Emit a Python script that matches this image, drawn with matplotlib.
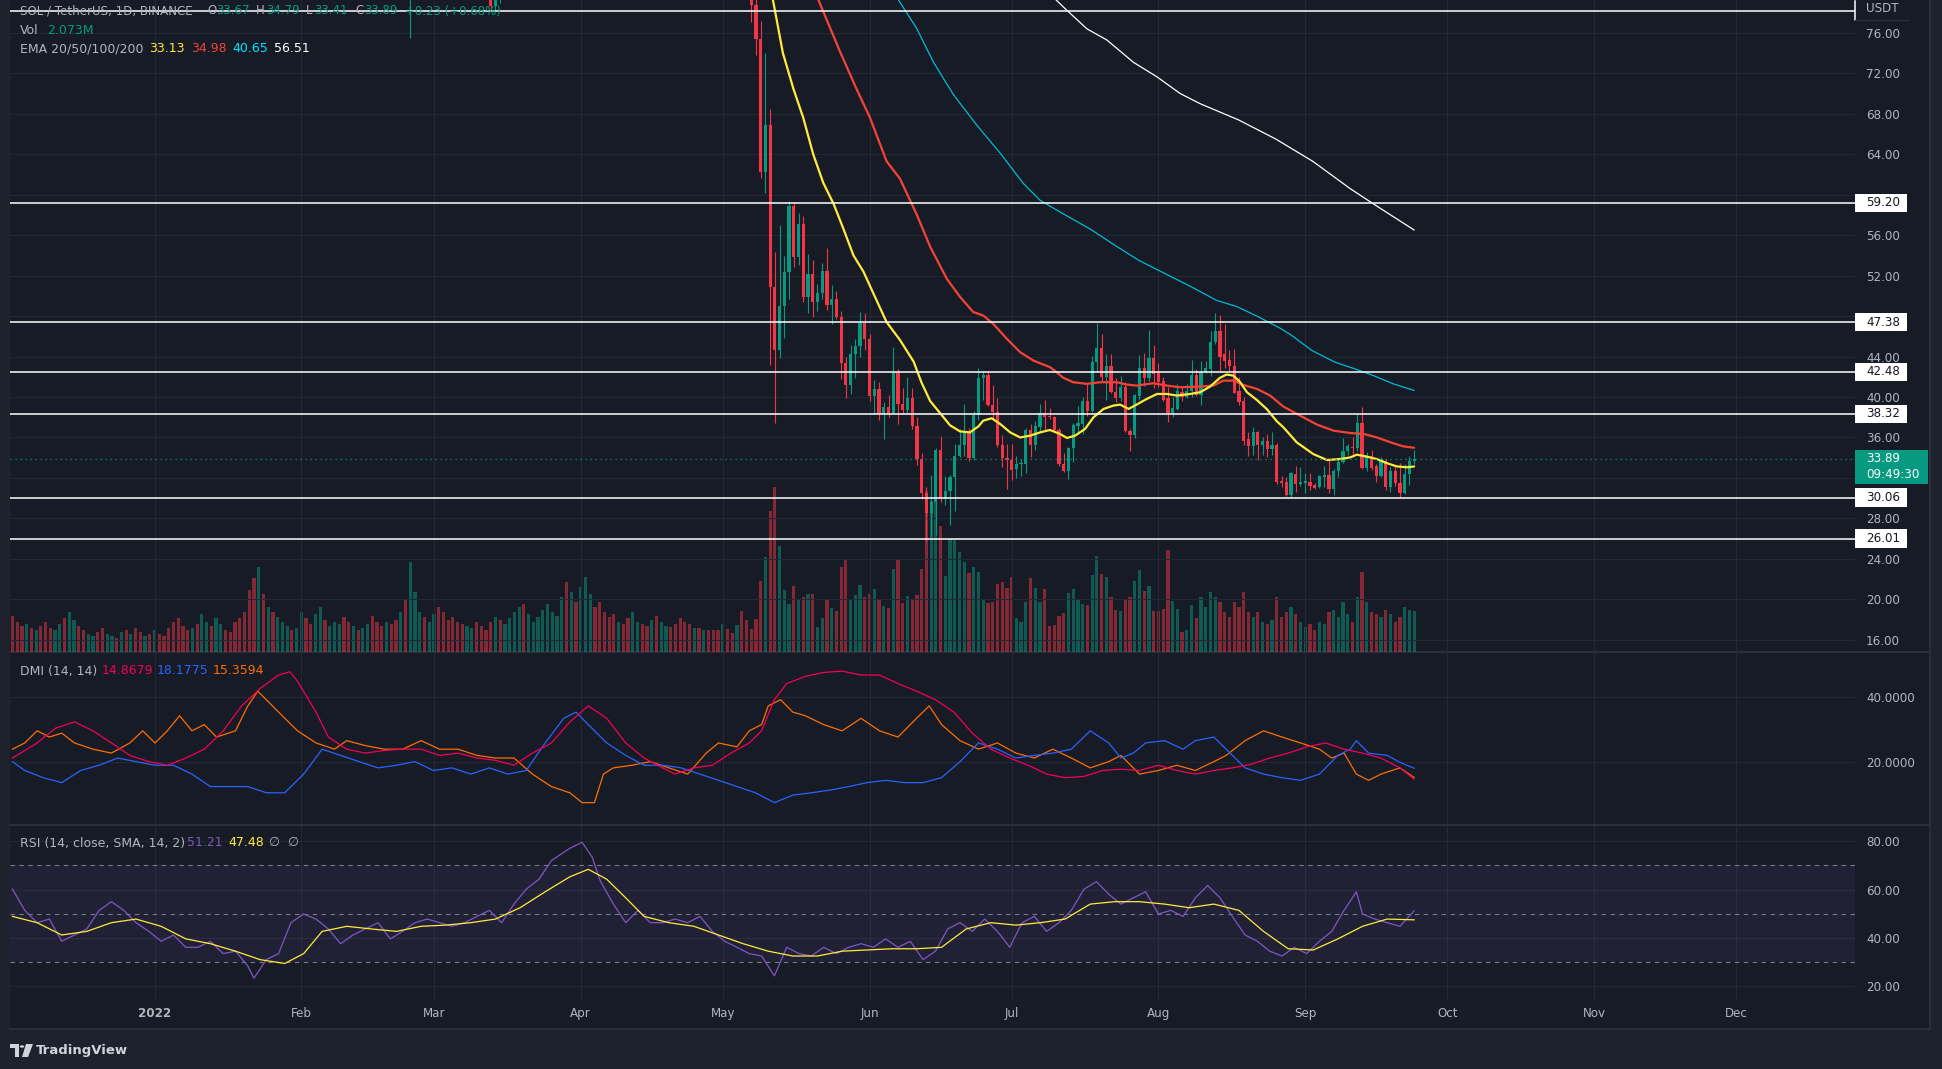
import numpy as np
import matplotlib
matplotlib.use("Agg")
import matplotlib.pyplot as plt
from matplotlib.patches import Rectangle, Polygon, Circle
from matplotlib.lines import Line2D
from matplotlib.transforms import blended_transform_factory

# days are counted from 1 Jan 2022 (= 0); daily candles, last one 24 Sep
first_candle_day = 126

c_open = [81.5, 78.8, 75.4, 62.2, 66.9, 50.85, 44.6, 48.95, 52.35, 58.85,
          53.8, 57.1, 49.85, 52.2, 49.4, 50.3, 52.5, 49.05, 49.65, 47.9,
          43.35, 41.2, 44.3, 45.0, 47.3, 45.7, 40.1, 40.8, 38.3, 39.05,
          38.4, 42.4, 39.3, 38.75, 39.95, 37.15, 33.9, 30.55, 28.5, 29.6,
          34.8, 29.95, 30.75, 32.05, 34.2, 35.3, 36.6, 34.0, 38.2, 41.9,
          42.2, 39.2, 38.5, 35.3, 34.0, 33.8, 32.85, 33.35, 33.4, 36.7,
          35.3, 37.0, 38.4, 38.15, 38.0, 36.7, 33.4, 32.65, 35.0, 37.1,
          37.3, 39.65, 38.6, 43.5, 44.86, 41.95, 43.1, 40.5, 39.9, 40.96,
          36.67, 36.2, 40.14, 42.88, 41.85, 43.9, 42.38, 41.62, 39.87, 38.46,
          38.8, 40.53, 39.97, 40.63, 42.22, 40.24, 42.52, 42.78, 45.42, 46.57,
          44.3, 43.67, 43.1, 40.57, 39.58, 35.85, 35.2, 36.5, 35.3, 35.68,
          34.83, 35.28, 31.7, 31.56, 30.34, 32.38, 31.39, 31.46, 31.63, 31.3,
          31.06, 32.12, 32.28, 30.87, 32.71, 33.57, 34.69, 35.09, 34.92, 37.47,
          32.95, 34.2, 33.15, 32.15, 33.7, 31.06, 32.65, 31.46, 30.5, 32.38, 33.67]
c_high = [82.5, 79.6, 77.2, 74.0, 68.5, 54.3, 57.0, 53.9, 59.35, 59.3,
          58.2, 57.85, 54.1, 53.5, 51.2, 53.2, 54.7, 51.1, 50.5, 48.5,
          44.0, 45.1, 45.7, 48.4, 48.3, 46.2, 41.7, 41.5, 39.5, 40.2,
          44.9, 42.8, 40.9, 42.0, 40.9, 38.0, 34.45, 31.1, 32.3, 35.0,
          36.1, 32.2, 32.3, 35.4, 36.8, 39.3, 36.9, 38.6, 42.9, 42.6,
          42.55, 41.2, 39.9, 36.2, 35.35, 35.35, 34.2, 33.9, 36.95, 37.3,
          37.6, 39.3, 39.75, 38.9, 38.15, 36.95, 34.5, 35.1, 37.4, 39.15,
          40.0, 41.3, 44.1, 47.33, 46.25, 44.26, 44.26, 41.9, 42.1, 41.46,
          36.84, 40.3, 44.2, 44.36, 46.64, 45.16, 43.34, 42.0, 41.03, 39.97,
          41.3, 41.13, 41.3, 43.67, 42.78, 43.6, 43.6, 46.5, 48.32, 48.06,
          47.23, 44.66, 44.76, 41.95, 39.97, 36.5, 37.07, 36.6, 36.08, 36.35,
          36.5, 35.5, 32.22, 32.05, 32.62, 33.21, 33.05, 32.45, 32.45, 31.46,
          32.3, 33.21, 33.77, 32.88, 33.84, 35.94, 35.35, 36.08, 38.32, 39.05,
          34.53, 34.76, 33.37, 34.03, 33.87, 33.05, 33.05, 33.47, 33.37, 34.13, 34.79]
c_low = [77.1, 73.8, 61.7, 60.2, 43.2, 37.4, 43.9, 45.8, 49.7, 52.9,
         53.1, 49.4, 48.3, 47.9, 48.5, 49.7, 48.65, 47.2, 47.7, 41.8,
         39.9, 40.3, 41.9, 44.0, 44.6, 39.6, 38.3, 37.7, 35.8, 38.05,
         38.3, 37.3, 38.3, 38.4, 36.8, 33.3, 29.9, 25.8, 26.3, 26.4,
         29.6, 29.3, 27.3, 28.7, 34.1, 34.2, 33.7, 33.8, 37.7, 39.7,
         39.15, 37.9, 35.1, 33.1, 30.95, 31.8, 32.0, 32.15, 32.5, 34.1,
         34.8, 36.6, 36.6, 37.8, 36.6, 33.2, 32.55, 31.85, 33.6, 36.4,
         36.35, 38.15, 38.55, 42.6, 41.46, 39.7, 40.4, 39.5, 39.6, 36.5,
         34.7, 35.95, 39.7, 41.06, 41.6, 40.86, 41.0, 39.64, 37.5, 38.0,
         38.72, 39.64, 39.9, 39.97, 40.14, 39.25, 42.35, 42.12, 45.25, 42.55,
         42.88, 42.62, 40.37, 39.25, 35.22, 34.2, 34.3, 33.77, 34.3, 34.1,
         34.3, 31.4, 31.06, 30.24, 30.07, 30.57, 31.23, 30.47, 30.8, 30.87,
         31.0, 31.13, 30.47, 30.34, 32.12, 33.5, 34.3, 34.03, 34.69, 32.9,
         32.65, 32.78, 31.56, 32.1, 30.83, 30.57, 31.23, 30.07, 30.4, 31.3, 33.41]
c_close = [78.8, 75.4, 62.2, 66.9, 50.85, 44.6, 48.95, 52.35, 58.85, 53.8,
           57.1, 49.85, 52.2, 49.4, 50.3, 52.5, 49.05, 49.65, 47.9, 43.35,
           41.2, 44.3, 45.0, 47.3, 45.7, 40.1, 40.8, 38.3, 39.05, 38.4,
           42.4, 39.3, 38.75, 39.95, 37.15, 33.9, 30.55, 28.5, 29.6, 34.8,
           29.95, 30.75, 32.05, 34.2, 35.3, 36.6, 34.0, 38.2, 41.9, 42.2,
           39.2, 38.5, 35.3, 34.0, 33.8, 32.75, 33.4, 33.45, 36.7, 35.3,
           37.1, 38.45, 38.05, 37.99, 36.7, 33.4, 32.65, 35.0, 37.2, 37.4,
           39.6, 38.6, 43.5, 44.86, 41.95, 43.1, 40.5, 39.9, 40.96, 36.6,
           36.2, 40.24, 42.88, 41.85, 43.9, 42.28, 41.46, 39.7, 38.46, 38.9,
           40.57, 39.97, 40.63, 42.22, 40.24, 42.52, 42.85, 45.42, 46.57, 43.93,
           43.6, 43.04, 40.44, 39.48, 35.68, 35.2, 36.5, 35.3, 35.68, 34.83,
           35.28, 31.6, 31.46, 30.34, 32.48, 31.39, 31.56, 31.66, 31.17, 31.0,
           32.22, 32.28, 30.87, 32.71, 33.57, 34.69, 35.12, 34.92, 37.47, 32.95,
           34.3, 32.95, 32.15, 33.87, 31.06, 32.65, 31.46, 30.5, 32.38, 33.7, 33.89]

# earlier candles that only poke into the top of the pane
early_days = [54, 71, 72, 73]
early_open = [84.0, 83.5, 78.7, 83.0]
early_high = [92.0, 84.5, 84.5, 86.0]
early_low = [75.5, 78.4, 78.1, 79.0]
early_close = [89.5, 78.7, 83.0, 85.5]

# volume (millions), 2 Dec 2021 .. 6 May 2022, then one per candle above
vol_early = [1.8, 1.5, 1.3, 1.4, 1.2, 1.1, 1.3, 1.5, 1.2, 1.1, 1.4, 1.7, 2.0, 1.6, 1.3,
             1.1, 0.9, 0.8, 1.0, 1.2, 0.9, 0.8, 0.7, 1.0, 1.1, 0.9, 1.2, 1.0, 0.8, 0.9,
             1.1, 0.9, 0.8, 1.2, 1.5, 1.7, 1.3, 1.1, 1.2, 1.4, 1.9, 1.5, 1.3, 1.7, 1.4, 1.1,
             1.0, 1.5, 1.7, 2.0, 3.1, 3.7, 4.25, 2.9, 2.25, 2.0, 1.75, 1.5, 1.3, 1.1, 1.2,
             2.0, 1.7, 1.4, 1.9, 2.25, 1.6, 1.3, 1.5, 1.4, 1.75, 1.5, 1.3, 1.1, 1.2,
             1.4, 1.8, 1.5, 1.3, 1.5, 1.4, 1.6, 2.0, 2.6, 4.5, 3.0, 2.0, 1.75, 1.5,
             1.9, 2.25, 2.0, 1.6, 1.75, 1.5, 1.4, 1.3, 1.2, 1.5, 1.3, 1.1, 1.5, 1.75, 1.6,
             1.4, 1.7, 2.0, 2.25, 2.4, 1.9, 1.5, 1.75, 2.1, 2.4, 2.0, 1.8, 2.75, 3.5, 3.0, 2.5,
             3.25, 3.75, 2.9, 2.25, 2.5, 2.0, 1.75, 1.9, 1.5, 1.4, 1.7, 2.0, 1.5, 1.4, 1.3,
             1.6, 1.8, 1.5, 1.3, 1.25, 1.4, 1.7, 1.5, 1.4, 1.2, 1.2,
             1.12, 1.12, 1.09, 1.12, 1.42, 1.17, 0.97, 1.37, 2.04, 1.59]
vol_early_dir = ("dddududdduuduudduudduudududdud"
                 "udddddddud" "uuduuddddd" "ddududuuudu"
                 "udduuduuud" "duduudddud" "duduuudu"
                 "udddddduud" "ddduduuuud" "uuuuuuuudud"
                 "uuudddddud" "duudduduud" "ddddud"
                 "uddduddudd")
vol_candles = [1.17, 1.67, 3.54, 4.72, 7.04, 8.25, 5.29, 3.09, 2.39, 3.29,
               2.64, 2.75, 2.92, 2.92, 1.24, 1.69, 2.59, 2.22, 2.05, 4.24,
               4.59, 2.64, 2.84, 3.34, 2.74, 2.89, 3.14, 2.67, 2.29, 2.22,
               4.14, 4.64, 2.44, 2.79, 2.64, 2.84, 4.14, 8.04, 7.54, 7.95,
               6.29, 3.79, 5.62, 5.59, 4.97, 4.49, 3.92, 4.22, 3.97, 2.64,
               2.44, 2.52, 3.39, 3.5, 3.22, 3.74, 1.69, 1.49, 2.49, 3.69,
               3.22, 2.49, 3.17, 1.29, 1.34, 1.79, 1.97, 2.94, 3.17, 2.67,
               2.39, 2.34, 3.84, 4.79, 3.89, 3.74, 2.74, 2.09, 2.05, 2.59,
               2.74, 3.54, 4.09, 3.04, 3.29, 2.04, 2.04, 2.17, 5.09, 2.54,
               2.14, 0.99, 1.09, 2.34, 1.72, 2.75, 2.25, 3.0, 2.75, 2.5,
               2.0, 1.75, 2.5, 2.25, 3.0, 2.0, 1.75, 2.0, 1.5, 1.4,
               1.6, 2.75, 1.75, 2.0, 2.25, 1.9, 1.5, 1.25, 1.4, 1.1,
               1.5, 1.4, 2.0, 2.1, 1.75, 2.5, 1.9, 1.5, 2.75, 4.0,
               2.5, 2.0, 1.9, 1.75, 2.1, 1.9, 1.5, 1.75, 2.25, 2.1, 2.07]

# EMA lines (day, value)
ema20 = [(128.5, 84.0), (130.6, 79.25), (132.7, 74.0), (134.9, 70.5), (137.0, 67.6), (139.1, 64.0),
         (141.2, 61.2), (143.4, 59.1), (145.5, 56.6), (147.6, 54.0), (149.7, 52.4), (151.8, 50.25),
         (154.6, 47.4), (157.4, 45.65), (160.3, 43.5), (162.0, 41.4), (163.8, 39.6), (165.9, 38.4),
         (168.0, 37.2), (170.1, 36.6), (172.2, 36.5), (174.0, 37.1), (175.0, 37.66), (176.8, 37.9),
         (178.6, 37.33), (180.7, 36.5), (182.8, 36.0), (184.9, 36.18), (187.0, 36.5), (189.1, 36.74),
         (191.2, 36.35), (192.7, 35.95), (194.4, 36.18), (196.5, 36.84), (198.3, 38.0), (200.4, 38.82),
         (202.5, 39.15), (203.9, 39.25), (205.7, 38.82), (207.4, 39.25), (209.5, 39.8), (211.7, 40.3),
         (213.8, 40.3), (215.9, 40.14), (218.7, 40.3), (220.8, 40.47), (222.9, 41.03), (225.0, 41.9),
         (226.4, 42.22), (227.8, 42.12), (229.2, 41.5), (230.7, 40.47), (232.8, 39.7), (234.9, 38.8),
         (237.0, 37.6), (238.4, 37.0), (241.2, 35.52), (244.7, 34.36), (247.6, 33.77), (250.4, 33.87),
         (252.5, 34.03), (253.9, 34.3), (256.0, 34.1), (258.1, 33.87), (260.2, 33.47), (262.3, 33.14),
         (264.5, 33.05), (266.0, 33.13)]
ema50 = [(137.5, 84.5), (140.2, 79.25), (144.8, 74.1), (148.3, 70.4), (151.1, 67.6), (154.6, 63.3),
         (157.4, 61.6), (161.0, 58.0), (163.8, 54.85), (167.3, 51.7), (170.1, 49.9), (172.9, 48.4),
         (175.0, 48.06), (177.1, 47.24), (180.0, 45.75), (182.8, 44.43), (185.6, 43.6), (189.1, 42.95),
         (190.5, 42.45), (191.9, 41.9), (194.0, 41.46), (196.9, 41.3), (199.7, 41.46), (203.2, 41.46),
         (205.3, 41.23), (207.4, 41.13), (210.9, 41.36), (213.8, 41.13), (216.6, 40.96), (220.8, 41.03),
         (223.6, 41.13), (225.7, 41.62), (227.8, 41.62), (229.9, 41.2), (232.8, 40.8), (235.6, 40.14),
         (238.4, 39.05), (241.9, 38.16), (245.5, 37.27), (249.0, 36.67), (252.5, 36.44), (255.3, 36.35),
         (258.1, 36.01), (261.0, 35.52), (263.7, 35.12), (266.0, 34.98)]
ema100 = [(154.0, 83.0), (157.1, 79.25), (161.0, 76.4), (164.5, 73.1), (168.7, 69.9), (173.6, 66.9),
          (178.6, 64.1), (183.5, 61.1), (187.0, 59.45), (192.3, 58.0), (197.6, 56.6), (202.8, 55.0),
          (207.9, 53.5), (213.4, 52.2), (218.5, 51.0), (224.3, 49.55), (228.5, 48.95), (232.8, 48.0),
          (237.7, 46.8), (239.8, 46.2), (244.4, 44.6), (249.3, 43.44), (253.5, 42.78), (257.4, 42.12),
          (261.6, 41.3), (266.0, 40.65)]
ema200 = [(187.0, 82.0), (190.4, 79.25), (192.6, 78.26), (196.9, 76.4), (201.1, 75.3), (206.7, 73.1),
          (211.7, 71.65), (216.6, 70.0), (220.8, 69.0), (228.9, 67.4), (236.8, 65.5), (244.6, 63.3),
          (252.5, 60.6), (257.7, 59.0), (266.0, 56.51)]

level_lines = [59.20, 47.38, 42.48, 38.32, 30.06, 26.01]
top_line = 78.13
last_price = 33.89

# DMI (day, value)
adx = [(-30.0, 21.3), (-24.8, 25.9), (-20.9, 30.4), (-16.9, 32.3), (-13.0, 29.6), (-9.1, 25.9),
       (-5.2, 22.1), (-1.2, 20.2), (2.7, 19.1), (6.6, 21.3), (10.5, 24.0), (14.5, 29.6), (18.4, 37.2),
       (22.3, 42.5), (26.2, 46.6), (28.6, 47.6), (30.2, 44.7), (34.1, 35.3), (36.7, 27.7), (40.6, 24.0),
       (44.5, 22.8), (48.5, 23.6), (52.4, 24.0), (56.3, 24.0), (60.2, 22.1), (64.1, 22.8), (68.1, 21.3),
       (72.0, 20.6), (75.9, 19.1), (79.8, 22.8), (83.8, 25.9), (87.7, 32.3), (91.6, 37.2), (95.5, 33.4),
       (99.5, 25.9), (103.4, 21.3), (107.3, 18.3), (109.9, 16.4), (113.9, 18.3), (117.8, 19.1),
       (121.7, 22.8), (125.6, 25.9), (128.2, 29.6), (130.9, 39.1), (133.5, 44.0), (137.4, 46.2),
       (141.3, 47.4), (145.2, 47.8), (149.2, 46.6), (153.1, 46.6), (157.0, 44.0), (160.9, 41.7),
       (164.9, 39.1), (168.8, 35.3), (172.7, 28.9), (176.6, 24.0), (180.6, 21.3), (184.5, 19.1),
       (188.4, 16.4), (192.3, 15.3), (196.3, 15.7), (200.2, 17.5), (204.1, 17.9), (208.0, 17.5),
       (212.0, 19.1), (215.9, 17.5), (219.8, 16.4), (223.7, 17.5), (227.6, 18.3), (231.6, 19.4),
       (235.5, 21.3), (239.4, 22.8), (243.3, 24.7), (247.3, 25.9), (251.2, 24.0), (255.1, 22.8),
       (259.0, 21.3), (263.0, 18.3), (266.0, 14.87)]
plus_di = [(-30.0, 20.2), (-27.4, 17.5), (-23.5, 15.3), (-19.6, 13.8), (-15.6, 17.5), (-11.7, 19.1),
           (-7.8, 21.3), (-3.9, 20.2), (0.1, 19.1), (4.0, 19.1), (7.9, 16.4), (11.8, 12.6), (15.8, 12.6),
           (19.7, 12.6), (23.6, 10.7), (27.5, 10.7), (31.5, 16.4), (35.4, 24.0), (39.3, 22.1), (43.2, 20.2),
           (47.2, 18.3), (51.1, 19.1), (55.0, 20.2), (58.9, 17.5), (62.8, 18.3), (66.8, 16.4), (70.7, 18.3),
           (74.6, 16.4), (78.5, 17.5), (82.5, 25.9), (86.4, 33.4), (89.0, 35.3), (91.6, 31.5), (95.5, 25.9),
           (99.5, 22.1), (103.4, 19.1), (107.3, 19.1), (111.2, 18.3), (115.2, 16.4), (119.1, 14.5),
           (123.0, 12.6), (126.9, 10.7), (130.9, 7.7), (134.8, 10.0), (138.7, 10.7), (142.6, 11.5),
           (146.6, 12.6), (150.5, 13.8), (154.4, 14.5), (158.3, 13.8), (162.3, 13.8), (166.2, 15.3),
           (170.1, 20.2), (174.0, 25.9), (178.0, 24.0), (181.9, 21.3), (185.8, 22.1), (189.7, 22.8),
           (193.6, 24.0), (197.6, 29.6), (201.5, 25.9), (204.1, 21.3), (206.7, 22.8), (209.3, 25.9),
           (213.3, 26.6), (217.2, 24.0), (219.8, 26.6), (223.7, 27.7), (226.3, 24.0), (230.3, 18.3),
           (234.2, 16.4), (238.1, 15.3), (242.0, 14.5), (246.0, 16.4), (249.9, 22.1), (252.5, 24.0),
           (253.8, 26.6), (256.4, 22.8), (260.3, 22.1), (263.0, 20.0), (266.0, 18.18)]
minus_di = [(-30.0, 24.0), (-27.4, 25.9), (-24.8, 29.6), (-22.2, 27.7), (-19.6, 28.9), (-16.9, 25.9),
            (-13.0, 24.0), (-9.1, 22.8), (-5.2, 25.9), (-2.5, 29.6), (0.1, 25.9), (2.7, 29.6), (5.3, 34.2),
            (7.9, 29.6), (10.5, 31.5), (13.1, 27.7), (17.1, 29.6), (19.7, 37.2), (21.8, 41.7), (23.6, 39.1),
            (26.2, 35.3), (30.2, 29.6), (34.1, 25.9), (38.0, 24.0), (40.6, 26.6), (44.5, 25.1), (48.5, 24.0),
            (52.4, 24.0), (56.3, 26.6), (60.2, 24.0), (64.1, 24.0), (68.1, 22.1), (72.0, 21.3), (75.9, 21.3),
            (79.8, 16.4), (83.8, 12.6), (87.7, 10.7), (90.3, 7.7), (92.9, 7.7), (94.8, 16.4), (96.9, 18.3),
            (100.8, 19.1), (104.7, 20.2), (108.6, 18.3), (112.6, 16.4), (116.5, 22.8), (119.1, 25.9),
            (123.0, 24.7), (125.6, 29.6), (128.2, 31.5), (129.6, 37.2), (132.2, 39.1), (134.8, 35.3),
            (137.4, 34.2), (141.3, 31.5), (145.2, 29.6), (149.2, 33.4), (153.1, 29.6), (157.0, 27.7),
            (160.9, 33.4), (163.6, 37.2), (166.2, 31.5), (170.1, 26.6), (174.0, 24.0), (178.0, 25.9),
            (181.9, 22.8), (185.8, 21.3), (189.7, 24.0), (193.6, 21.3), (197.6, 18.3), (201.5, 20.2),
            (204.1, 22.1), (208.0, 16.4), (212.0, 17.5), (215.9, 19.1), (219.8, 17.5), (223.7, 20.2),
            (226.3, 22.1), (230.3, 26.6), (234.2, 29.6), (238.1, 27.7), (242.0, 25.9), (246.0, 24.0),
            (248.6, 21.3), (251.2, 22.8), (253.8, 16.4), (256.4, 14.5), (259.0, 16.4), (263.0, 18.3),
            (266.0, 15.36)]

# RSI and its SMA (day, value)
rsi = [(-30.0, 60.2), (-27.4, 51.4), (-24.8, 46.3), (-22.2, 47.8), (-19.6, 38.6), (-16.9, 41.2),
       (-14.3, 43.7), (-11.7, 51.4), (-9.1, 55.0), (-6.5, 51.4), (-3.9, 46.3), (-1.2, 42.7), (1.4, 38.6),
       (4.0, 41.2), (6.6, 36.1), (9.2, 36.1), (11.8, 38.6), (14.5, 33.5), (17.1, 34.5), (19.7, 28.4),
       (21.0, 23.3), (23.6, 31.0), (26.2, 33.5), (28.8, 46.3), (31.5, 49.9), (34.1, 47.8), (36.7, 43.7),
       (39.3, 37.6), (41.9, 41.2), (44.5, 43.7), (47.2, 46.3), (49.8, 39.6), (52.4, 42.7), (55.0, 46.3),
       (57.6, 47.8), (60.2, 46.3), (62.8, 44.8), (65.5, 46.3), (68.1, 48.9), (70.7, 51.4), (73.3, 46.3),
       (75.9, 54.0), (78.5, 60.2), (81.2, 64.3), (83.8, 72.0), (87.7, 77.1), (90.3, 79.6), (92.4, 73.5),
       (94.2, 63.3), (96.9, 54.0), (99.5, 46.3), (102.1, 51.4), (104.7, 46.3), (107.3, 46.3),
       (109.9, 47.8), (112.6, 46.3), (115.2, 48.9), (117.8, 42.7), (120.4, 38.6), (123.0, 36.1),
       (125.6, 33.5), (128.2, 32.5), (130.9, 24.3), (133.5, 36.1), (136.1, 33.5), (138.7, 32.5),
       (141.3, 36.1), (144.0, 33.5), (146.6, 36.1), (149.2, 37.6), (151.8, 36.1), (154.4, 39.6),
       (157.0, 36.1), (159.6, 38.6), (162.3, 31.0), (164.9, 34.5), (167.5, 43.7), (170.1, 46.3),
       (172.7, 42.7), (175.3, 47.8), (178.0, 42.7), (180.6, 36.1), (183.2, 46.3), (185.8, 48.9),
       (188.4, 42.7), (191.0, 46.3), (193.6, 51.4), (196.3, 60.2), (198.9, 63.3), (201.5, 58.1),
       (204.1, 54.0), (206.7, 56.6), (209.3, 59.1), (212.0, 49.9), (214.6, 51.4), (217.2, 48.9),
       (219.8, 56.6), (222.4, 61.7), (225.0, 56.6), (227.6, 48.9), (230.3, 41.2), (232.9, 38.6),
       (235.5, 34.5), (238.1, 32.5), (240.7, 36.1), (243.3, 33.5), (246.0, 38.6), (248.6, 42.7),
       (251.2, 51.4), (253.8, 59.1), (255.1, 49.9), (257.7, 47.8), (260.3, 46.3), (263.0, 44.8),
       (266.0, 51.21)]
rsi_ma = [(-30.0, 48.9), (-24.8, 46.3), (-19.6, 41.2), (-14.3, 42.7), (-9.1, 46.3), (-3.9, 47.8),
          (1.4, 44.8), (6.6, 39.6), (11.8, 37.6), (17.1, 34.5), (22.3, 31.0), (27.5, 29.4), (31.5, 33.5),
          (35.4, 42.7), (40.6, 44.8), (45.8, 43.7), (51.1, 42.7), (56.3, 44.8), (61.5, 45.3), (66.8, 46.3),
          (72.0, 47.8), (77.2, 52.5), (82.5, 59.1), (87.7, 65.3), (91.6, 68.4), (95.5, 64.3), (99.5, 56.6),
          (103.4, 48.9), (108.6, 46.3), (113.9, 44.8), (119.1, 41.2), (124.3, 37.6), (129.6, 34.5),
          (134.8, 32.5), (140.0, 32.5), (145.2, 34.5), (150.5, 35.0), (155.7, 35.5), (160.9, 35.5),
          (166.2, 36.1), (171.4, 43.7), (176.6, 46.3), (181.9, 45.3), (187.1, 46.3), (192.3, 47.8),
          (197.6, 54.0), (202.8, 55.0), (208.0, 55.0), (213.3, 54.0), (218.5, 52.5), (223.7, 54.0),
          (229.0, 51.4), (234.2, 42.7), (239.4, 35.5), (244.7, 35.0), (249.9, 39.6), (255.1, 44.8),
          (260.3, 47.8), (266.0, 47.48)]

month_days = [0, 31, 59, 90, 120, 151, 181, 212, 243, 273, 304, 334]
month_labels = ['2022', 'Feb', 'Mar', 'Apr', 'May', 'Jun', 'Jul', 'Aug', 'Sep', 'Oct', 'Nov', 'Dec']
price_ticks = list(range(16, 77, 4))

# ---------------------------------------------------------------------------
W, H = 1942, 1069
BG = '#171b26'
OUTER = '#1e222d'
GRID = '#242834'
SEP = '#2a2e39'
TXT = '#b2b5be'
UP = '#089981'
DOWN = '#f23645'
FS = 8.6


def fx(x):
    return x / W


def fy(y):
    return 1 - y / H


fig = plt.figure(figsize=(W / 100, H / 100), dpi=100, facecolor=OUTER)
fig.patches.append(Rectangle((fx(10), fy(1029)), 1920 / W, 1029 / H, transform=fig.transFigure,
                             facecolor=BG, edgecolor='none', zorder=-5))

ax = fig.add_axes([fx(10), fy(652), 1845 / W, 652 / H])
ax_dmi = fig.add_axes([fx(10), fy(825), 1845 / W, 173 / H], sharex=ax)
ax_rsi = fig.add_axes([fx(10), fy(1001), 1845 / W, 176 / H], sharex=ax)
ax_vol = ax.twinx()
ax.set_zorder(3)
ax_vol.set_zorder(2)

for a in (ax, ax_dmi, ax_rsi, ax_vol):
    a.patch.set_visible(False)
    for s in a.spines.values():
        s.set_visible(False)

ax.set_xlim(-30.52, 359.1)
ax.set_ylim(14.79, 79.25)
ax_dmi.set_ylim(0.88, 53.63)
ax_rsi.set_ylim(13.87, 86.75)

# ---- volume ----
vol_all = vol_early + vol_candles
vol_days = np.arange(-30, -30 + len(vol_all))
vol_dir = list(vol_early_dir) + ['u' if c >= o else 'd' for o, c in zip(c_open, c_close)]
vol_cols = [UP if d == 'u' else DOWN for d in vol_dir]
ax_vol.bar(vol_days, vol_all, width=0.68, color=vol_cols, alpha=0.5, linewidth=0)
ax_vol.set_ylim(0, 32.55)
ax_vol.yaxis.set_visible(False)

# ---- candles ----
all_days = early_days + list(range(first_candle_day, first_candle_day + len(c_open)))
all_o = early_open + c_open
all_h = early_high + c_high
all_l = early_low + c_low
all_c = early_close + c_close
cols = [UP if c >= o else DOWN for o, c in zip(all_o, all_c)]
ax.vlines(all_days, all_l, all_h, colors=cols, linewidth=0.8, zorder=4)
bottoms = [min(o, c) for o, c in zip(all_o, all_c)]
heights = [max(abs(c - o), 0.09) for o, c in zip(all_o, all_c)]
ax.bar(all_days, heights, bottom=bottoms, width=0.68, color=cols, linewidth=0, zorder=5)

# ---- EMAs ----
for data, col, lw in ((ema200, '#ffffff', 0.9), (ema100, '#00bcd4', 0.9),
                      (ema50, '#f44336', 1.6), (ema20, '#ffeb3b', 1.6)):
    d, v = zip(*data)
    ax.plot(d, v, color=col, lw=lw, zorder=6, solid_capstyle='round')

# ---- horizontal levels ----
trans = blended_transform_factory(ax.transAxes, ax.transData)
ax.axhline(top_line, color='white', lw=1.1, zorder=8)
for lv in level_lines:
    ax.axhline(lv, color='white', lw=1.1, zorder=7)
    ax.add_patch(Rectangle((1.0, lv - 0.9), 52 / 1845, 1.8, transform=trans, facecolor='white',
                           edgecolor='none', clip_on=False, zorder=10))
    ax.text(1 + 11 / 1845, lv, f'{lv:.2f}', transform=trans, color='#131722', fontsize=FS,
            va='center', ha='left', clip_on=False, zorder=11)
ax.axhline(last_price, color=UP, lw=0.9, ls=(0, (1, 3)), zorder=7)
ax.add_patch(Rectangle((1.0, last_price - 2.46), 73 / 1845, 3.3, transform=trans, facecolor=UP,
                       edgecolor='none', clip_on=False, zorder=10))
ax.text(1 + 11 / 1845, last_price, f'{last_price:.2f}', transform=trans, color='white',
        fontsize=FS, va='center', ha='left', clip_on=False, zorder=11)
ax.text(1 + 11 / 1845, last_price - 1.57, '09:49:30', transform=trans, color='white',
        fontsize=FS, va='center', ha='left', clip_on=False, zorder=11)

# ---- DMI ----
for data, col in ((minus_di, '#ff6d00'), (plus_di, '#2962ff'), (adx, '#f50057')):
    d, v = zip(*data)
    ax_dmi.plot(d, v, color=col, lw=0.9)

# ---- RSI ----
ax_rsi.axhspan(30, 70, color='#7e57c2', alpha=0.1, lw=0)
for lv in (70, 50, 30):
    ax_rsi.axhline(lv, color='#787b86', lw=0.8, ls=(0, (4, 4)))
d, v = zip(*rsi)
ax_rsi.plot(d, v, color='#7e57c2', lw=0.9)
d, v = zip(*rsi_ma)
ax_rsi.plot(d, v, color='#ffeb3b', lw=0.9)

# ---- axes, ticks, grid ----
# labels sitting under the level / price boxes are hidden, as on the original
covered = (32, 48, 60)
ax.set_yticks(price_ticks)
ax.set_yticklabels(['' if t in covered else f'{t:.2f}' for t in price_ticks])
ax_dmi.set_yticks([20, 40])
ax_dmi.set_yticklabels(['20.0000', '40.0000'])
ax_rsi.set_yticks([20, 40, 60, 80])
ax_rsi.set_yticklabels(['20.00', '40.00', '60.00', '80.00'])
ax.set_xticks(month_days)
for a in (ax, ax_dmi, ax_rsi):
    a.yaxis.tick_right()
    a.set_axisbelow(True)
    a.grid(True, color=GRID, lw=0.8)
    a.tick_params(axis='y', length=0, pad=7.9, labelsize=FS, labelcolor=TXT)
    a.tick_params(axis='x', length=0, labelbottom=False)
ax_rsi.tick_params(axis='x', labelbottom=True, pad=4.5, labelsize=FS, labelcolor=TXT)
ax_rsi.set_xticklabels(month_labels)
ax_rsi.get_xticklabels()[0].set_fontweight('bold')

# ---- frame lines ----
for y in (652, 825):
    fig.add_artist(Line2D([fx(10), fx(1930)], [fy(y), fy(y)], color=SEP, lw=1.5))
fig.add_artist(Line2D([fx(1930), fx(1930)], [fy(0), fy(1029)], color=SEP, lw=1.5))
fig.add_artist(Line2D([fx(10), fx(1930)], [fy(1029), fy(1029)], color=SEP, lw=1.5))
fig.add_artist(Line2D([fx(1855), fx(1855)], [fy(1), fy(20)], color='white', lw=1.1))
fig.add_artist(Line2D([fx(1855), fx(1908)], [fy(20), fy(20)], color=SEP, lw=1))
fig.text(fx(1866), fy(8), 'USDT', color=TXT, fontsize=FS, va='center', ha='left')

# ---- legends ----
def label(x, y, s, col, size=9, **kw):
    fig.text(fx(x), fy(y), s, color=col, fontsize=size, va='center', ha='left', **kw)


label(20, 11, 'SOL / TetherUS, 1D, BINANCE', TXT, 8.6)
for x, s in ((207, 'O'), (256, 'H'), (306, 'L'), (355, 'C')):
    label(x, 11, s, TXT, 8.5)
for x, s in ((216, '33.67'), (266, '34.79'), (314, '33.41'), (364, '33.89'), (405, '+0.23 (+0.68%)')):
    label(x, 11, s, UP, 8.5)
label(20, 30, 'Vol', TXT)
label(47, 30, '2.073M', UP)
label(20, 49, 'EMA 20/50/100/200', TXT)
label(149, 49, '33.13', '#ffeb3b')
label(191, 49, '34.98', '#f44336')
label(232, 49, '40.65', '#00e5ff')
label(274, 49, '56.51', '#ffffff')
label(20, 671, 'DMI (14, 14)', TXT)
label(102, 671, '14.8679', '#f50057')
label(157, 671, '18.1775', '#2962ff')
label(213, 671, '15.3594', '#ff6d00')
label(20, 843, 'RSI (14, close, SMA, 14, 2)', TXT)
label(187, 843, '51.21', '#7e57c2')
label(228, 843, '47.48', '#ffeb3b')
label(268, 843, '\u2205', TXT)
label(287, 843, '\u2205', TXT)

# ---- TradingView mark ----
logo = '#d1d4dc'
fig.patches.append(Polygon([(fx(10), fy(1044)), (fx(19), fy(1044)), (fx(19), fy(1057)),
                            (fx(15), fy(1057)), (fx(15), fy(1048)), (fx(10), fy(1048))],
                           closed=True, transform=fig.transFigure, facecolor=logo, edgecolor='none'))
fig.patches.append(Circle((fx(22), fy(1046.5)), 2.2 / W, transform=fig.transFigure,
                          facecolor=logo, edgecolor='none'))
fig.patches.append(Polygon([(fx(26), fy(1044)), (fx(33), fy(1044)), (fx(28), fy(1057)), (fx(22), fy(1057))],
                           closed=True, transform=fig.transFigure, facecolor=logo, edgecolor='none'))
fig.text(fx(36), fy(1050.5), 'TradingView', color=logo, fontsize=9.5, fontweight='bold',
         va='center', ha='left')

fig.savefig('out.png', dpi=100, facecolor=OUTER)
